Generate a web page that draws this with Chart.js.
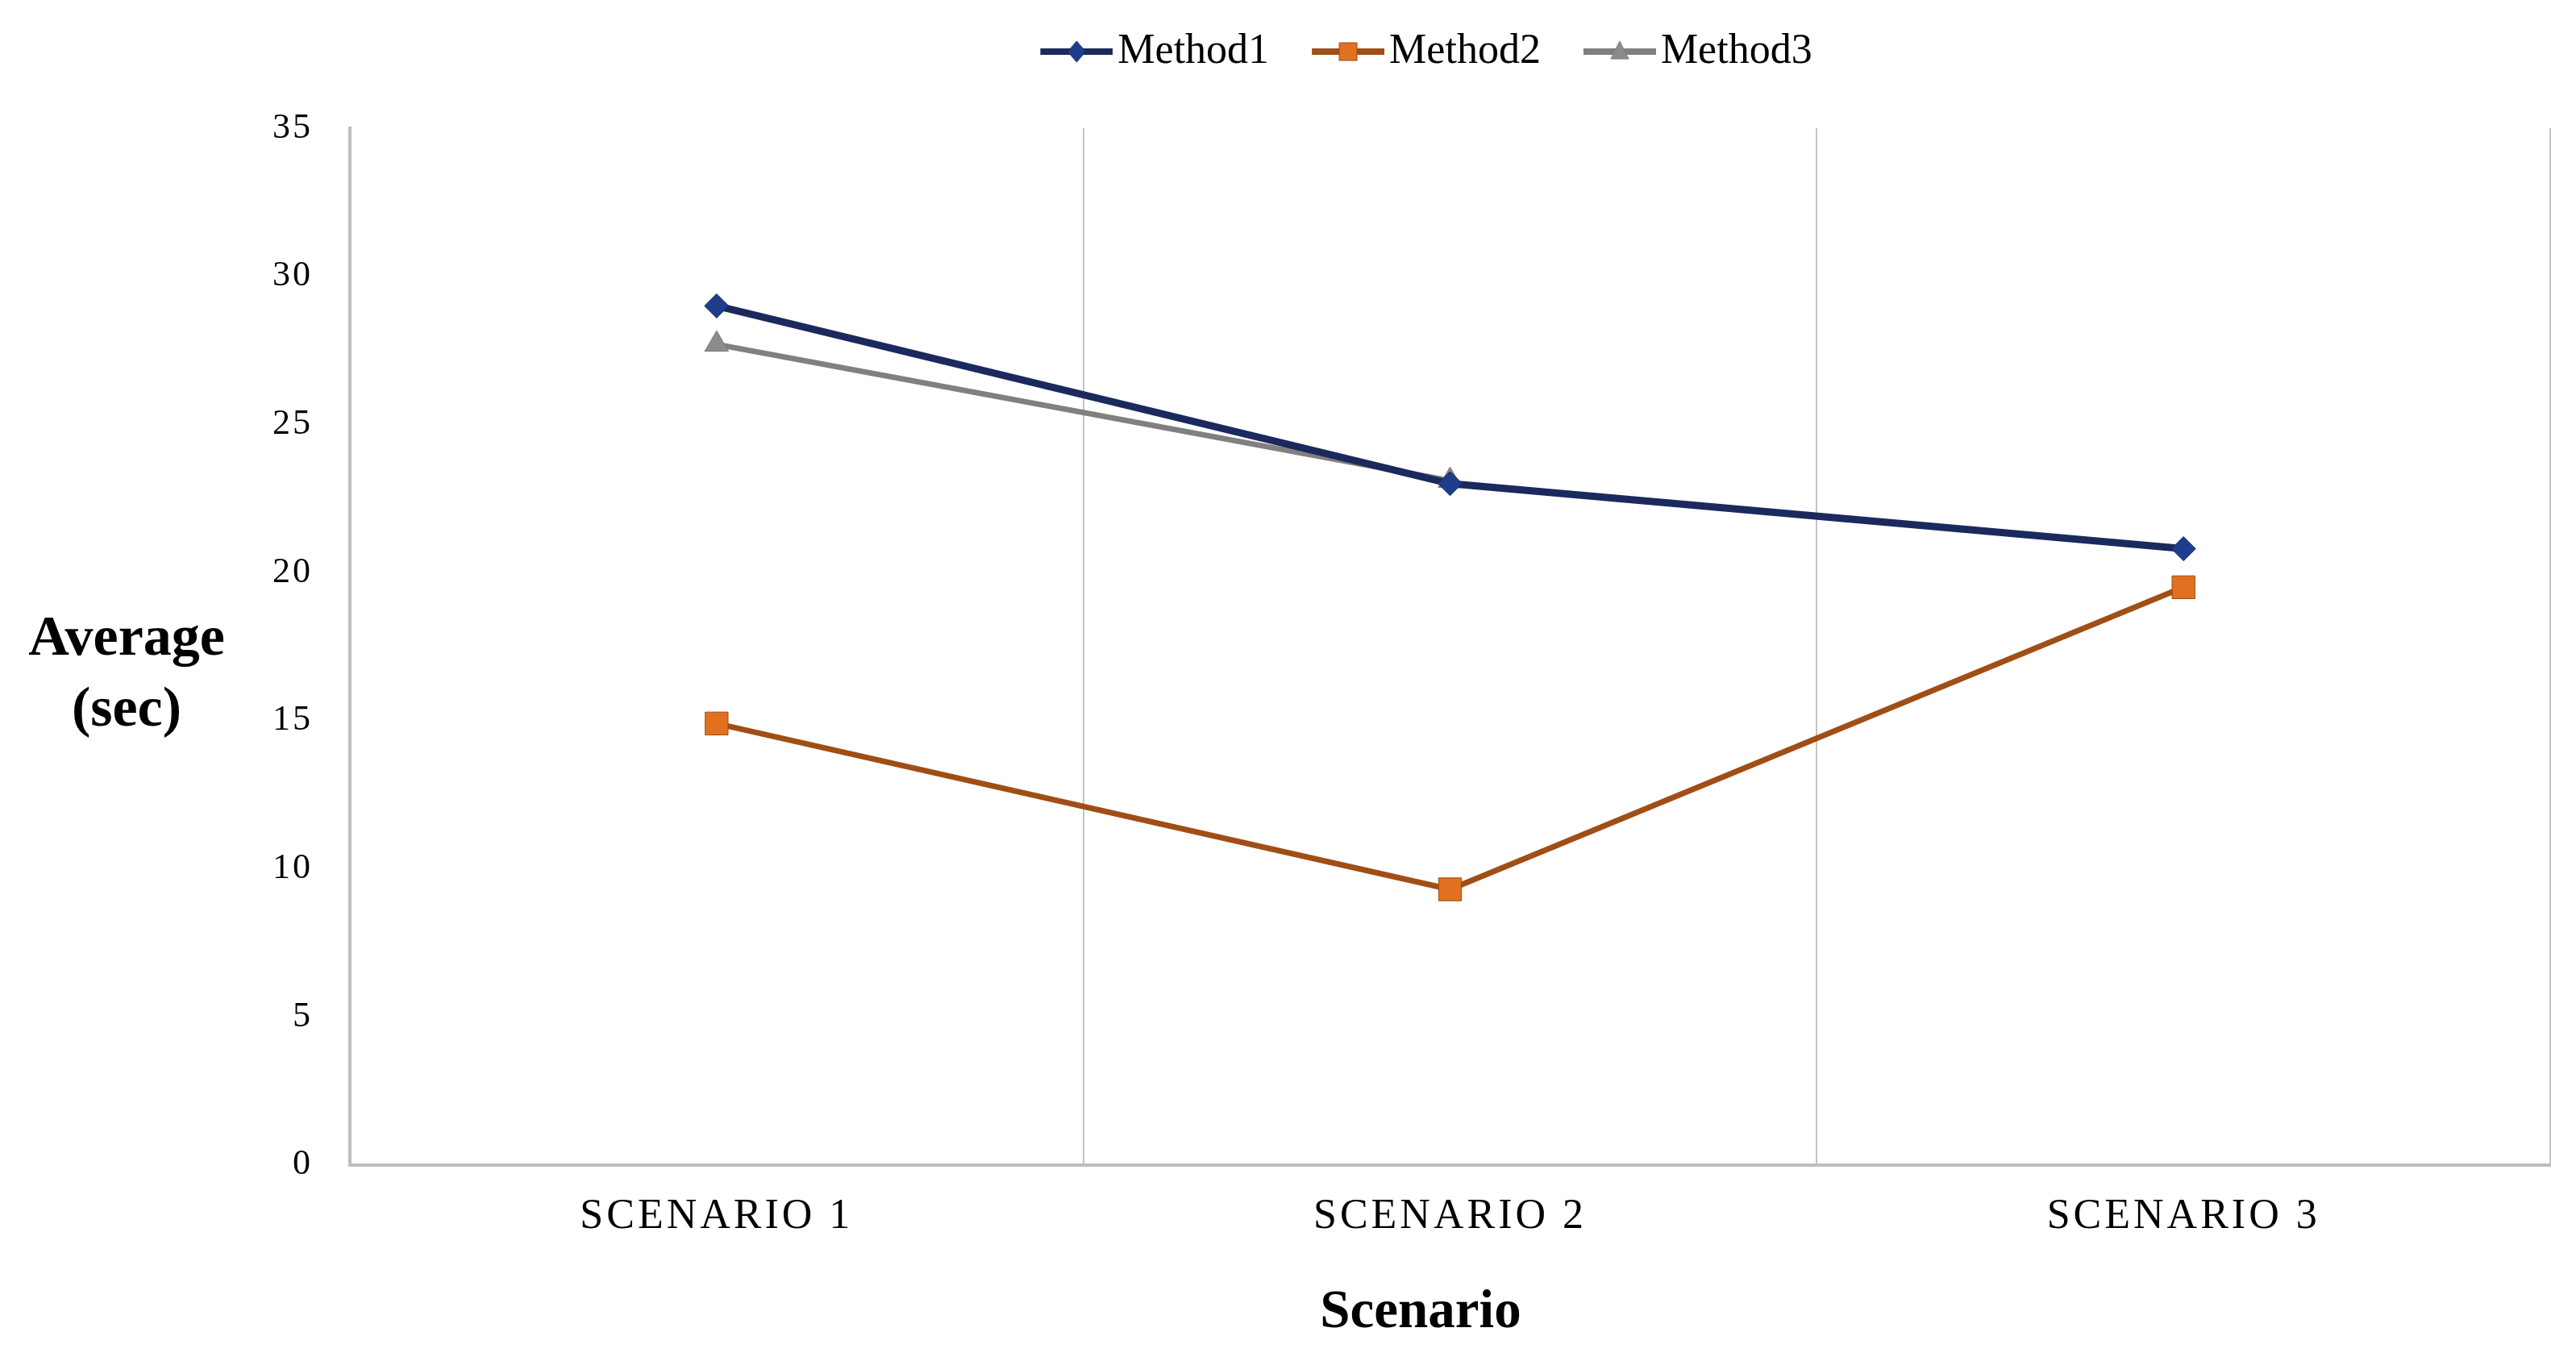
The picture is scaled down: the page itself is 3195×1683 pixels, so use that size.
<!DOCTYPE html>
<html>
<head>
<meta charset="utf-8">
<script src="https://cdn.jsdelivr.net/npm/chart.js@4.4.1/dist/chart.umd.min.js"></script>
<style>
  html, body { margin: 0; padding: 0; background: #ffffff; }
  #wrap { width: 3195px; height: 1683px; position: relative; }
</style>
</head>
<body>
<div id="wrap"><canvas id="chart" width="3195" height="1683"></canvas></div>
<script>
// chart data
const scenarios = ['SCENARIO 1', 'SCENARIO 2', 'SCENARIO 3'];
const method1 = [29.0, 23.0, 20.8];
const method2 = [14.9, 9.3, 19.5];
const method3 = [27.7, 23.1, null];
const seriesNames = ['Method1', 'Method2', 'Method3'];
const yTicks = [0, 5, 10, 15, 20, 25, 30, 35];

const serif = "'Liberation Serif', 'Times New Roman', serif";

const styles = [
    { line: '#1b2a5c', fill: '#1e3d8c', border: '#14285e', shape: 'rectRot', radius: 15, width: 9 },
    { line: '#a04e16', fill: '#e2711f', border: '#9a4a14', shape: 'rect', radius: 20, width: 7 },
    { line: '#808080', fill: '#8c8c8c', border: '#7a7a7a', shape: 'triangle', radius: 17, width: 7 }
];

// small line + marker pictures for the legend (left part left blank as spacing)
function legendIcon(s) {
    const c = document.createElement('canvas');
    c.width = 143; c.height = 32;
    const g = c.getContext('2d');
    g.strokeStyle = s.line;
    g.lineWidth = 8;
    g.beginPath(); g.moveTo(53, 16); g.lineTo(143, 16); g.stroke();
    g.fillStyle = s.fill;
    g.strokeStyle = s.border;
    g.lineWidth = 1;
    g.beginPath();
    const cx = 98;
    if (s.shape === 'rectRot') {
        g.moveTo(cx, 3); g.lineTo(cx + 11, 16); g.lineTo(cx, 29); g.lineTo(cx - 11, 16);
    } else if (s.shape === 'rect') {
        g.rect(cx - 11, 5, 22, 22);
    } else {
        g.moveTo(cx, 3); g.lineTo(cx + 11, 25); g.lineTo(cx - 11, 25);
    }
    g.closePath(); g.fill(); g.stroke();
    return c;
}
const icons = styles.map(legendIcon);

const datasets = [method1, method2, method3].map((vals, i) => ({
    label: seriesNames[i],
    data: vals,
    borderColor: styles[i].line,
    borderWidth: styles[i].width,
    backgroundColor: styles[i].fill,
    pointStyle: styles[i].shape,
    pointRadius: styles[i].radius,
    pointBackgroundColor: styles[i].fill,
    pointBorderColor: styles[i].border,
    pointBorderWidth: 1,
    tension: 0,
    spanGaps: false
}));

// axis titles drawn flat, where the original has them
const axisTitles = {
    id: 'axisTitles',
    afterDraw(chart) {
        const ctx = chart.ctx;
        ctx.save();
        ctx.fillStyle = '#000';
        ctx.textAlign = 'center';
        ctx.textBaseline = 'middle';
        ctx.font = 'bold 70px ' + serif;
        ctx.fillText('Average', 157, 794);
        ctx.fillText('(sec)', 157, 882);
        ctx.font = 'bold 67px ' + serif;
        ctx.fillText('Scenario', 1762, 1629);
        ctx.restore();
    }
};

// extra room under the legend, legend nudged left, spaced-out tick labels
const layoutTweaks = {
    id: 'layoutTweaks',
    beforeInit(chart) {
        const fit = chart.legend.fit;
        chart.legend.fit = function() {
            fit.bind(chart.legend)();
            this.height += 59;
        };
    },
    afterLayout(chart) {
        chart.legend.left -= 46;
        chart.legend.right -= 46;
        ['x', 'y'].forEach(id => {
            const s = chart.scales[id];
            if (s._spaced) return;
            const orig = s.drawLabels.bind(s);
            s.drawLabels = function(area) {
                chart.ctx.save();
                chart.ctx.letterSpacing = id === 'x' ? '4px' : '3px';
                orig(area);
                chart.ctx.restore();
            };
            s._spaced = true;
        });
    }
};

new Chart(document.getElementById('chart'), {
    type: 'line',
    data: { labels: scenarios, datasets: datasets },
    options: {
        responsive: false,
        animation: false,
        layout: { padding: { top: 18, right: 32, bottom: 108, left: 0 } },
        plugins: {
            legend: {
                position: 'top',
                fullSize: false,
                labels: {
                    usePointStyle: true,
                    pointStyleWidth: 103,
                    padding: 20,
                    color: '#000',
                    font: { family: serif, size: 52 },
                    generateLabels(chart) {
                        const items = Chart.defaults.plugins.legend.labels.generateLabels(chart);
                        items.forEach((it, i) => { it.pointStyle = icons[i]; });
                        return items;
                    }
                }
            },
            tooltip: { enabled: false }
        },
        scales: {
            x: {
                type: 'category',
                offset: true,
                grid: { display: true, offset: true, color: '#c4c4c4', lineWidth: 2, drawTicks: false },
                border: { display: true, color: '#bdbdbd', width: 4 },
                ticks: { color: '#000', padding: 34, font: { family: serif, size: 52 } }
            },
            y: {
                min: 0,
                max: 35,
                afterFit(scale) { scale.width = 434; },
                afterBuildTicks(scale) { scale.ticks = yTicks.map(v => ({ value: v })); },
                grid: { display: false, drawTicks: false },
                border: { display: true, color: '#bdbdbd', width: 4 },
                ticks: { color: '#000', padding: 46, font: { family: serif, size: 44 } }
            }
        }
    },
    plugins: [axisTitles, layoutTweaks]
});
</script>
</body>
</html>
